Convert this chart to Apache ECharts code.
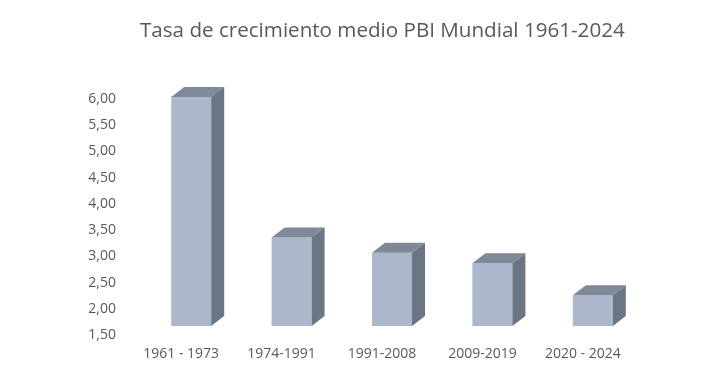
<!DOCTYPE html>
<html>
<head>
<meta charset="utf-8">
<script src="https://cdn.jsdelivr.net/npm/echarts@6/dist/echarts.min.js"></script>
<style>
  html, body { margin: 0; padding: 0; background: #fff; }
  #chart { width: 720px; height: 378px; }
</style>
</head>
<body>
<div id="chart"></div>
<script>
var periodos = ['1961 - 1973', '1974-1991', '1991-2008', '2009-2019', '2020 - 2024'];
var tasas = [6.04, 3.36, 3.07, 2.87, 2.26];
var yMin = 1.5, yMax = 6, yPaso = 0.5;

var colorFrente = '#abb7ca';
var colorTapa = '#7f8999';
var colorLado = '#6c7583';

function renderCaja(params, api) {
    var base = api.coord([api.value(0), yMin]);
    var tope = api.coord([api.value(0), api.value(1)]);
    var ancho = 40, dx = 13, dy = 10, corr = 10, baseY = base[1] - 9;
    var x0 = base[0] + corr - ancho / 2, x1 = x0 + ancho, yT = tope[1];
    return {
        type: 'group',
        children: [
            {type: 'rect', shape: {x: x0, y: yT, width: ancho, height: baseY - yT}, style: {fill: colorFrente}},
            {type: 'polygon', shape: {points: [[x0, yT], [x0 + dx, yT - dy], [x1 + dx, yT - dy], [x1, yT]]}, style: {fill: colorTapa}},
            {type: 'polygon', shape: {points: [[x1, yT], [x1 + dx, yT - dy], [x1 + dx, baseY - dy], [x1, baseY]]}, style: {fill: colorLado}}
        ]
    };
}

var myChart = echarts.init(document.getElementById('chart'));
var option = {
    backgroundColor: '#fff',
    animation: false,
    textStyle: {fontFamily: 'Open Sans'},
    title: {
        text: 'Tasa de crecimiento medio PBI Mundial 1961-2024',
        left: 135, top: 16,
        textStyle: {color: '#595959', fontSize: 20.6, fontWeight: 'normal', fontFamily: 'Open Sans'}
    },
    grid: {left: 131, right: 87, top: 99, bottom: 43},
    xAxis: {
        type: 'category', data: periodos,
        axisLine: {show: false}, axisTick: {show: false},
        axisLabel: {color: '#595959', fontSize: 14, margin: 12}
    },
    yAxis: {
        type: 'value', min: yMin, max: yMax, interval: yPaso,
        splitLine: {show: false}, axisLine: {show: false}, axisTick: {show: false},
        axisLabel: {
            color: '#595959', fontSize: 14, margin: 15,
            formatter: function (v) { return v.toFixed(2).replace('.', ','); }
        }
    },
    series: [{
        type: 'custom',
        renderItem: renderCaja,
        data: tasas.map(function (v, i) { return [i, v]; })
    }]
};
myChart.setOption(option);
</script>
</body>
</html>
